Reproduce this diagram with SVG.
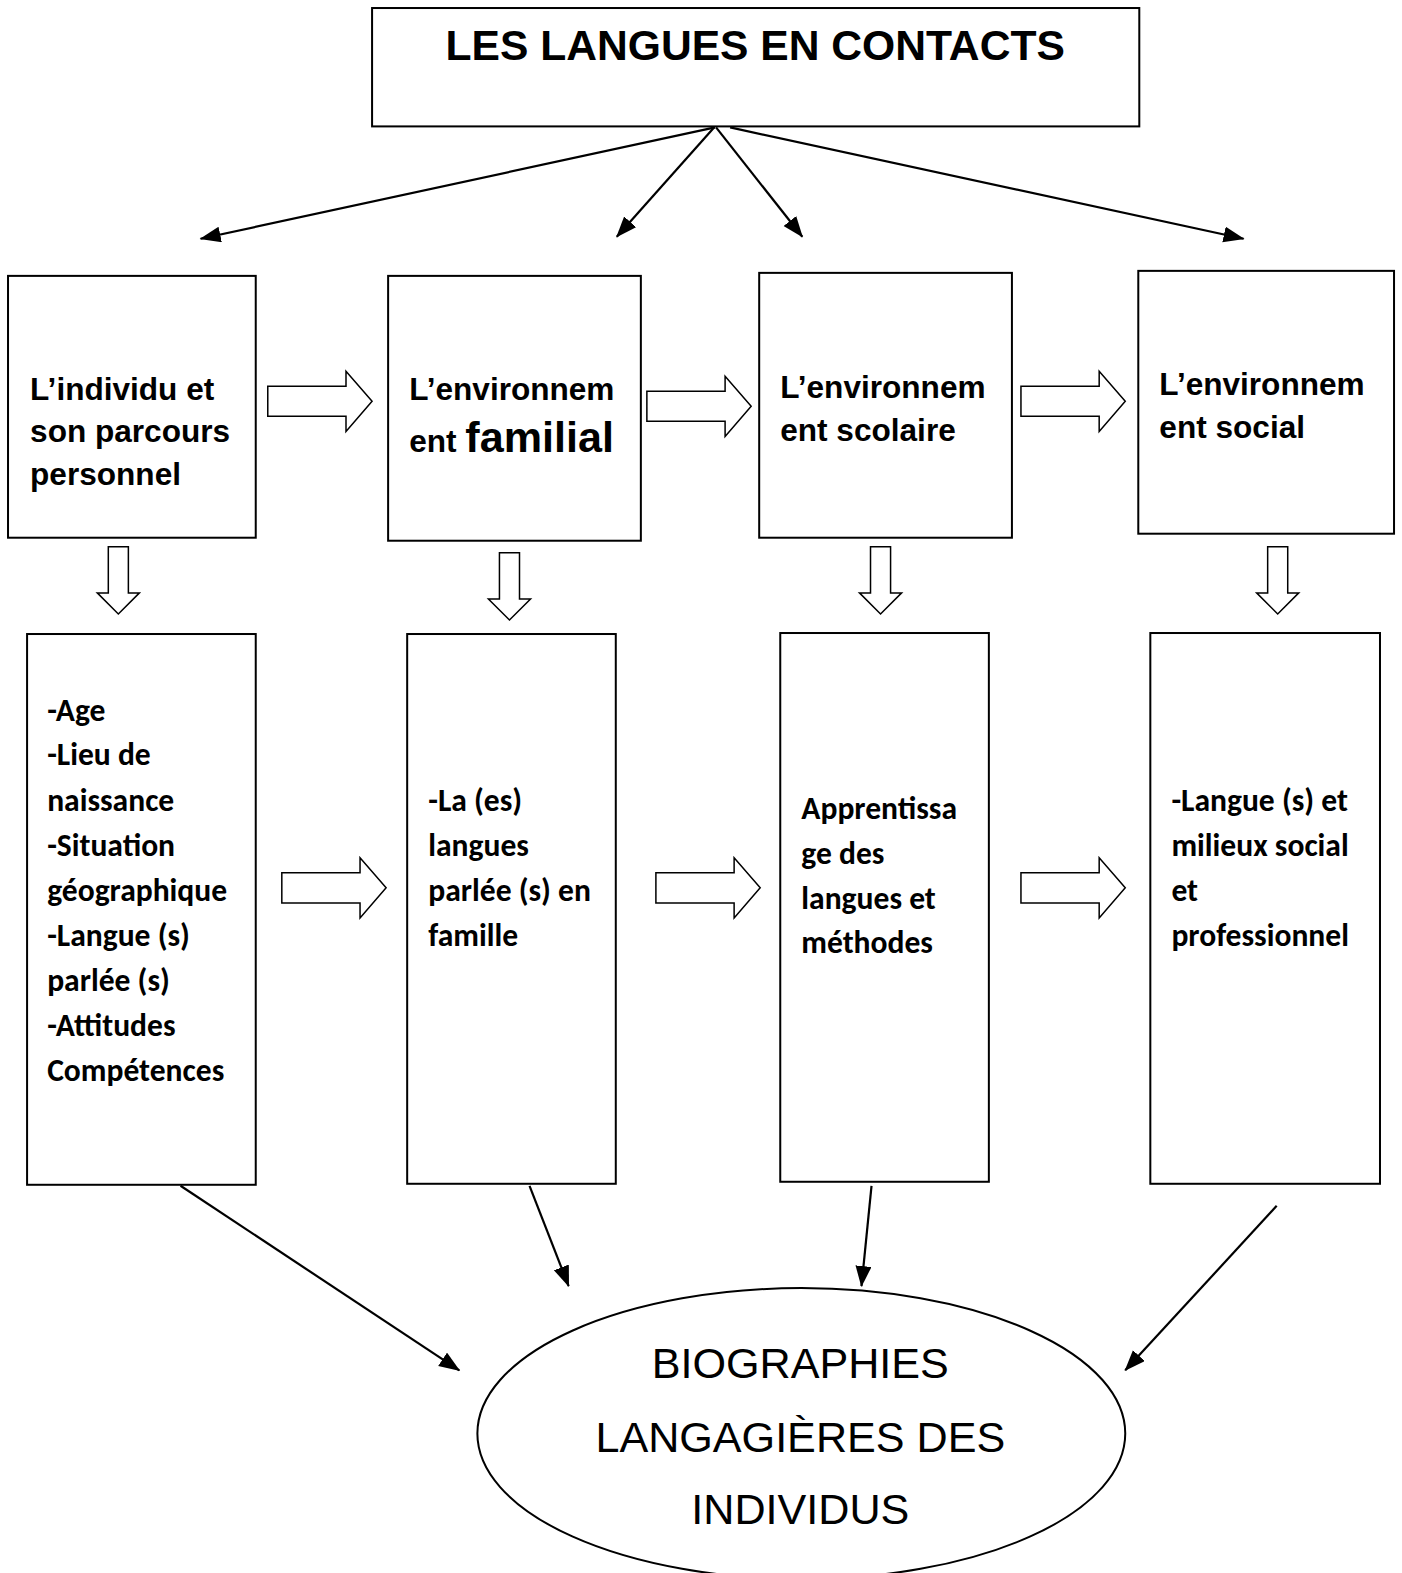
<svg xmlns="http://www.w3.org/2000/svg" width="1402" height="1573" viewBox="0 0 1402 1573">
  <style>
    .box { fill: #fff; stroke: #000; stroke-width: 2; }
    .blk { fill: #fff; stroke: #000; stroke-width: 1.5; stroke-linejoin: miter; }
    .conn { stroke: #000; stroke-width: 2.2; fill: none; marker-end: url(#tip); }
    .title { font-family: "Liberation Sans", Arial, sans-serif; font-weight: bold; font-size: 42.5px; fill: #000; }
    .head { font-family: "Liberation Sans", Arial, sans-serif; font-weight: bold; font-size: 31.5px; fill: #000; }
    .body { font-family: Carlito, Lato, "Open Sans", sans-serif; font-weight: bold; font-size: 31.5px; fill: #000; }
    .bio { font-family: "Liberation Sans Narrow", "Arial Narrow", "Liberation Sans", sans-serif; font-size: 43px; fill: #000; }
  </style>
  <defs>
    <marker id="tip" markerUnits="userSpaceOnUse" markerWidth="24" markerHeight="18" refX="20" refY="8" orient="auto">
      <path d="M0,0 L21,8 L0,16 Z" fill="#000"/>
    </marker>
    <!-- hollow block arrows, drawn around the origin -->
    <path id="blockRight" d="M0,-15 L78,-15 L78,-30 L104,0 L78,30 L78,15 L0,15 Z"/>
    <path id="blockDown" d="M-10,0 L10,0 L10,46 L21,46 L0,67 L-21,46 L-10,46 Z"/>
  </defs>

  <g transform="scale(1.0029 1.0032)">
  <!-- title -->
  <g id="title">
    <rect class="box" x="371" y="8" width="765" height="118"/>
    <text class="title" x="753" y="60" text-anchor="middle">LES LANGUES EN CONTACTS</text>
  </g>

  <!-- upper row -->
  <g id="individu">
    <rect class="box" x="8" y="275" width="247" height="261"/>
    <text class="head" x="30" y="399">L’individu et</text>
    <text class="head" x="30" y="441">son parcours</text>
    <text class="head" x="30" y="483">personnel</text>
  </g>
  <g id="familial">
    <rect class="box" x="387" y="275" width="252" height="264"/>
    <text class="head" x="408" y="399">L’environnem</text>
    <text class="head" x="408" y="451">ent <tspan font-size="43">familial</tspan></text>
  </g>
  <g id="scolaire">
    <rect class="box" x="757" y="272" width="252" height="264"/>
    <text class="head" x="778" y="397">L’environnem</text>
    <text class="head" x="778" y="440">ent scolaire</text>
  </g>
  <g id="social">
    <rect class="box" x="1135" y="270" width="255" height="262"/>
    <text class="head" x="1156" y="394">L’environnem</text>
    <text class="head" x="1156" y="437">ent social</text>
  </g>

  <!-- lower row -->
  <g id="details-individu">
    <rect class="box" x="27" y="632" width="228" height="549"/>
    <text class="body" x="47" y="719">-Age</text>
    <text class="body" x="47" y="763">-Lieu de</text>
    <text class="body" x="47" y="808">naissance</text>
    <text class="body" x="47" y="853">-Situation</text>
    <text class="body" x="47" y="898">géographique</text>
    <text class="body" x="47" y="943">-Langue (s)</text>
    <text class="body" x="47" y="988">parlée (s)</text>
    <text class="body" x="47" y="1033">-Attitudes</text>
    <text class="body" x="47" y="1078">Compétences</text>
  </g>
  <g id="details-familial">
    <rect class="box" x="406" y="632" width="208" height="548"/>
    <text class="body" x="427" y="808">-La (es)</text>
    <text class="body" x="427" y="853">langues</text>
    <text class="body" x="427" y="898">parlée (s) en</text>
    <text class="body" x="427" y="943">famille</text>
  </g>
  <g id="details-scolaire">
    <rect class="box" x="778" y="631" width="208" height="547"/>
    <text class="body" x="799" y="816">Apprentissa</text>
    <text class="body" x="799" y="861">ge des</text>
    <text class="body" x="799" y="906">langues et</text>
    <text class="body" x="799" y="950">méthodes</text>
  </g>
  <g id="details-social">
    <rect class="box" x="1147" y="631" width="229" height="549"/>
    <text class="body" x="1168" y="808">-Langue (s) et</text>
    <text class="body" x="1168" y="853">milieux social</text>
    <text class="body" x="1168" y="898">et</text>
    <text class="body" x="1168" y="943">professionnel</text>
  </g>

  <!-- result -->
  <g id="biographies">
    <ellipse class="box" cx="799" cy="1429" rx="323" ry="145"/>
    <text class="bio" x="798" y="1374" text-anchor="middle">BIOGRAPHIES</text>
    <text class="bio" x="798" y="1447" text-anchor="middle">LANGAGIÈRES DES</text>
    <text class="bio" x="798" y="1519" text-anchor="middle">INDIVIDUS</text>
  </g>

  <!-- connectors -->
  <g id="connectors">
    <line class="conn" x1="713" y1="127" x2="200" y2="238"/>
    <line class="conn" x1="712" y1="127" x2="615" y2="236"/>
    <line class="conn" x1="714" y1="127" x2="800" y2="236"/>
    <line class="conn" x1="728" y1="127" x2="1240" y2="238"/>

    <use href="#blockRight" class="blk" x="267" y="400"/>
    <use href="#blockRight" class="blk" x="645" y="405"/>
    <use href="#blockRight" class="blk" x="1018" y="400"/>

    <use href="#blockDown" class="blk" x="118" y="545"/>
    <use href="#blockDown" class="blk" x="508" y="551"/>
    <use href="#blockDown" class="blk" x="878" y="545"/>
    <use href="#blockDown" class="blk" x="1274" y="545"/>

    <use href="#blockRight" class="blk" x="281" y="885"/>
    <use href="#blockRight" class="blk" x="654" y="885"/>
    <use href="#blockRight" class="blk" x="1018" y="885"/>

    <line class="conn" x1="180" y1="1182" x2="458" y2="1366"/>
    <line class="conn" x1="528" y1="1182" x2="567" y2="1282"/>
    <line class="conn" x1="869" y1="1182" x2="859" y2="1282"/>
    <line class="conn" x1="1273" y1="1202" x2="1122" y2="1366"/>
  </g>
  </g>
</svg>
